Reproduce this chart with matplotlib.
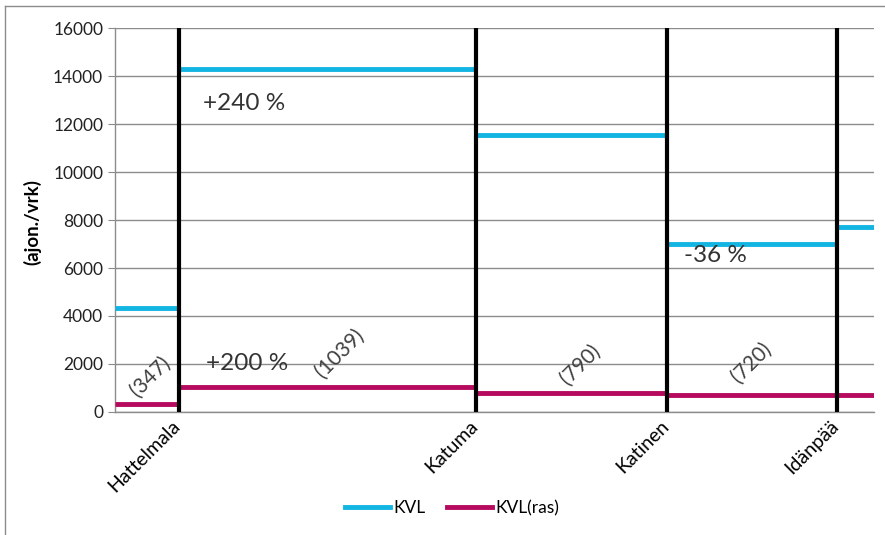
import matplotlib.pyplot as plt
import matplotlib.transforms as mtransforms
from matplotlib.lines import Line2D

plt.rcParams['font.family'] = ['Lato', 'DejaVu Sans']

# distance along the road (relative units), stations and segment breaks
x_edges = [0, 8.4, 47.6, 72.7, 95.1, 100]
stations = ['Hattelmala', 'Katuma', 'Katinen', 'Idänpää']
station_x = [8.4, 47.6, 72.7, 95.1]

kvl = [4350, 14300, 11550, 7000, 7700]
kvl_ras = [347, 1039, 790, 720, 720]

ras_labels = ['(347)', '(1039)', '(790)', '(720)']
ras_label_x = [4.6, 29.6, 61.3, 83.9]
ras_label_y = [1460, 2460, 1960, 2040]

change_labels = ['+240 %', '+200 %', '-36 %']
change_x = [17.0, 17.4, 79.1]
change_y = [12875, 2040, 6540]

c_kvl = '#12B4E2'
c_ras = '#B50A5E'

fig = plt.figure(figsize=(8.85, 5.35), dpi=100)
ax = fig.add_axes([115/885, 1 - 412/535, (874-115)/885, (412-28)/535])

ax.set_xlim(0, 100)
ax.set_ylim(0, 16000)
ax.set_yticks(range(0, 16001, 2000))
ax.grid(axis='y', color='#8c8c8c', lw=1)
ax.set_axisbelow(True)

for vals, col in [(kvl, c_kvl), (kvl_ras, c_ras)]:
    for i, v in enumerate(vals):
        ax.hlines(v, x_edges[i], x_edges[i+1], color=col, lw=3.5, zorder=3)
        if i > 0:
            ax.vlines(x_edges[i], vals[i-1], v, color=col, lw=1.3, zorder=3)

for sx in station_x:
    ax.vlines(sx, 0, 16000, color='black', lw=3, zorder=4)

for t, lx, ly in zip(ras_labels, ras_label_x, ras_label_y):
    ax.text(lx, ly, t, rotation=45, ha='center', va='center', fontsize=15, color='#404040', zorder=5)

for t, lx, ly in zip(change_labels, change_x, change_y):
    ax.text(lx, ly, t, ha='center', va='center', fontsize=17.5, color='#333333', zorder=5)

ax.set_xticks(station_x)
ax.set_xticklabels(stations, rotation=45, ha='right', rotation_mode='anchor', fontsize=14)
ax.tick_params(axis='x', length=0, pad=4)
ax.tick_params(axis='y', length=5, color='#8c8c8c', labelsize=12.5, labelcolor='#222222')
shift = mtransforms.ScaledTranslation(-7/100, 0, fig.dpi_scale_trans)
for lab in ax.get_xticklabels():
    lab.set_transform(lab.get_transform() + shift)

for s in ['top', 'right']:
    ax.spines[s].set_visible(False)
for s in ['left', 'bottom']:
    ax.spines[s].set_color('#8c8c8c')
    ax.spines[s].set_linewidth(1)

fig.text(32/885, 1 - 222/535, '(ajon./vrk)', rotation=90, ha='center', va='center',
         fontsize=13.5, fontweight='bold')

handles = [Line2D([0], [0], color=c_kvl, lw=3.5), Line2D([0], [0], color=c_ras, lw=3.5)]
fig.legend(handles, ['KVL', 'KVL(ras)'], loc='center', bbox_to_anchor=(452/885, 1 - 508/535),
           ncol=2, frameon=False, fontsize=12.5, handlelength=2.6, handletextpad=0.2, columnspacing=1.2)

# chart area frame
fig.add_artist(Line2D([5/885, 1], [1 - 6/535, 1 - 6/535], color='#8c8c8c', lw=1, transform=fig.transFigure))
fig.add_artist(Line2D([5/885, 5/885], [0, 1 - 6/535], color='#8c8c8c', lw=1, transform=fig.transFigure))

fig.savefig('out.png', dpi=100)
